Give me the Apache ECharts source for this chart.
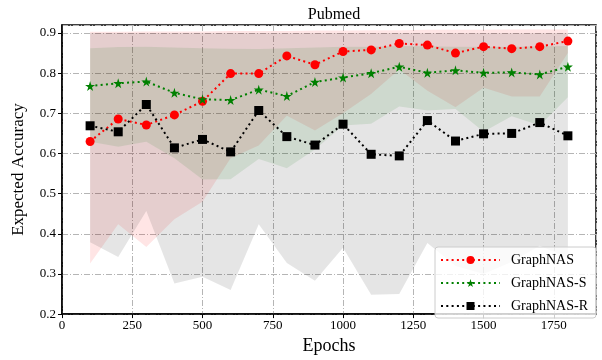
<!DOCTYPE html>
<html>
<head>
<meta charset="utf-8">
<script src="https://cdn.jsdelivr.net/npm/echarts@6/dist/echarts.min.js"></script>
<style>
  html, body { margin: 0; padding: 0; background: #fff; }
  #chart { width: 602px; height: 360px; }
</style>
</head>
<body>
<div id="chart"></div>
<script>
// epochs sampled every 100
const epochs = [100, 200, 300, 400, 500, 600, 700, 800, 900, 1000, 1100, 1200, 1300, 1400, 1500, 1600, 1700, 1800]

// mean expected accuracy
const graphnas = [0.630, 0.686, 0.671, 0.696, 0.730, 0.799, 0.799, 0.843, 0.821, 0.854, 0.858, 0.874, 0.870, 0.850, 0.866, 0.861, 0.866, 0.880]
const graphnasS = [0.768, 0.775, 0.779, 0.751, 0.735, 0.733, 0.759, 0.743, 0.778, 0.789, 0.800, 0.816, 0.801, 0.807, 0.801, 0.802, 0.797, 0.816]
const graphnasR = [0.669, 0.654, 0.722, 0.614, 0.635, 0.604, 0.707, 0.642, 0.621, 0.673, 0.598, 0.594, 0.682, 0.631, 0.649, 0.650, 0.677, 0.644]

// shaded ranges (min / max)
const graphnasLow = [0.326, 0.424, 0.367, 0.436, 0.480, 0.588, 0.620, 0.694, 0.657, 0.700, 0.748, 0.809, 0.756, 0.715, 0.764, 0.742, 0.742, 0.850]
const graphnasHigh = [0.903, 0.903, 0.904, 0.904, 0.904, 0.905, 0.905, 0.905, 0.906, 0.906, 0.907, 0.907, 0.908, 0.908, 0.908, 0.909, 0.909, 0.909]
const graphnasSLow = [0.629, 0.617, 0.629, 0.588, 0.535, 0.536, 0.586, 0.563, 0.610, 0.670, 0.674, 0.717, 0.707, 0.711, 0.654, 0.693, 0.670, 0.740]
const graphnasSHigh = [0.862, 0.865, 0.866, 0.864, 0.862, 0.861, 0.860, 0.862, 0.864, 0.866, 0.866, 0.868, 0.867, 0.866, 0.866, 0.866, 0.867, 0.868]
const graphnasRLow = [0.379, 0.342, 0.457, 0.276, 0.293, 0.260, 0.424, 0.327, 0.283, 0.365, 0.248, 0.250, 0.377, 0.320, 0.300, 0.330, 0.370, 0.340]
const graphnasRHigh = [0.900, 0.900, 0.900, 0.900, 0.900, 0.900, 0.900, 0.900, 0.900, 0.900, 0.900, 0.900, 0.900, 0.900, 0.900, 0.900, 0.900, 0.900]

const FONT = "'Liberation Serif', 'DejaVu Serif', serif"
const STAR = 'path://M50,0 L61,35 L98,35 L68,57 L79,91 L50,70 L21,91 L32,57 L2,35 L39,35 Z'

const chart = echarts.init(document.getElementById('chart'))

// one polygon per band, built through the axis scales
const band = (low, high, color) => ({
  type: 'custom',
  silent: true,
  z: 1,
  data: [[epochs[0], low[0]]],
  renderItem: (params, api) => {
    const top = epochs.map((e, i) => api.coord([e, high[i]]))
    const bottom = epochs.map((e, i) => api.coord([e, low[i]])).reverse()
    return {type: 'polygon', shape: {points: top.concat(bottom)}, style: {fill: color}}
  }
})

const line = (name, values, color, symbol, size) => ({
  name,
  type: 'line',
  z: 3,
  data: epochs.map((e, i) => [e, values[i]]),
  symbol,
  symbolSize: size,
  itemStyle: {color},
  lineStyle: {color, width: 2, type: [2, 3.3]}
})

const option = {
  animation: false,
  title: {
    text: 'Pubmed',
    left: 329,
    textAlign: 'center',
    top: 2,
    textStyle: {fontFamily: FONT, fontSize: 16, fontWeight: 'normal', color: '#000'}
  },
  grid: {
    left: 62, right: 6, top: 25, bottom: 42,
    show: true, borderColor: '#000', borderWidth: 1.5
  },
  legend: {
    orient: 'vertical',
    right: 6,
    bottom: 42,
    data: ['GraphNAS', 'GraphNAS-S', 'GraphNAS-R'],
    itemWidth: 59,
    itemHeight: 10,
    itemGap: 9,
    padding: [6, 8, 5, 5],
    backgroundColor: 'rgba(255,255,255,0.8)',
    borderColor: '#cccccc',
    borderWidth: 1,
    borderRadius: 3,
    textStyle: {fontFamily: FONT, fontSize: 14, color: '#000', padding: [0, 0, 0, 6]}
  },
  xAxis: {
    type: 'value',
    min: 0,
    max: 1900,
    interval: 250,
    name: 'Epochs',
    nameLocation: 'middle',
    nameGap: 20,
    nameTextStyle: {fontFamily: FONT, fontSize: 18, color: '#000'},
    axisLine: {show: true, onZero: false, lineStyle: {color: '#000', width: 1.5}},
    axisTick: {show: true, length: 4, lineStyle: {color: '#000'}},
    axisLabel: {
      color: '#000', fontFamily: FONT, fontSize: 13, margin: 5, showMaxLabel: false,
      formatter: v => String(v)
    },
    splitLine: {show: true, lineStyle: {color: '#b5b5b5', width: 1, type: [6, 2, 1, 2]}}
  },
  yAxis: {
    type: 'value',
    min: 0.2,
    max: 0.92,
    interval: 0.1,
    name: 'Expected Accuracy',
    nameLocation: 'middle',
    nameGap: 35,
    nameTextStyle: {fontFamily: FONT, fontSize: 17, color: '#000'},
    axisLine: {show: true, lineStyle: {color: '#000', width: 1.5}},
    axisTick: {show: true, length: 4, lineStyle: {color: '#000'}},
    axisLabel: {
      color: '#000', fontFamily: FONT, fontSize: 13, margin: 6, showMaxLabel: false,
      formatter: v => v.toFixed(1)
    },
    splitLine: {show: true, lineStyle: {color: '#b5b5b5', width: 1, type: [6, 2, 1, 2]}}
  },
  series: [
    band(graphnasLow, graphnasHigh, 'rgba(255,0,0,0.1)'),
    band(graphnasSLow, graphnasSHigh, 'rgba(0,128,0,0.1)'),
    band(graphnasRLow, graphnasRHigh, 'rgba(0,0,0,0.1)'),
    line('GraphNAS', graphnas, '#ff0000', 'circle', 9),
    line('GraphNAS-S', graphnasS, '#008000', STAR, 10),
    line('GraphNAS-R', graphnasR, '#000000', 'rect', 9)
  ]
}

chart.setOption(option)
</script>
</body>
</html>
